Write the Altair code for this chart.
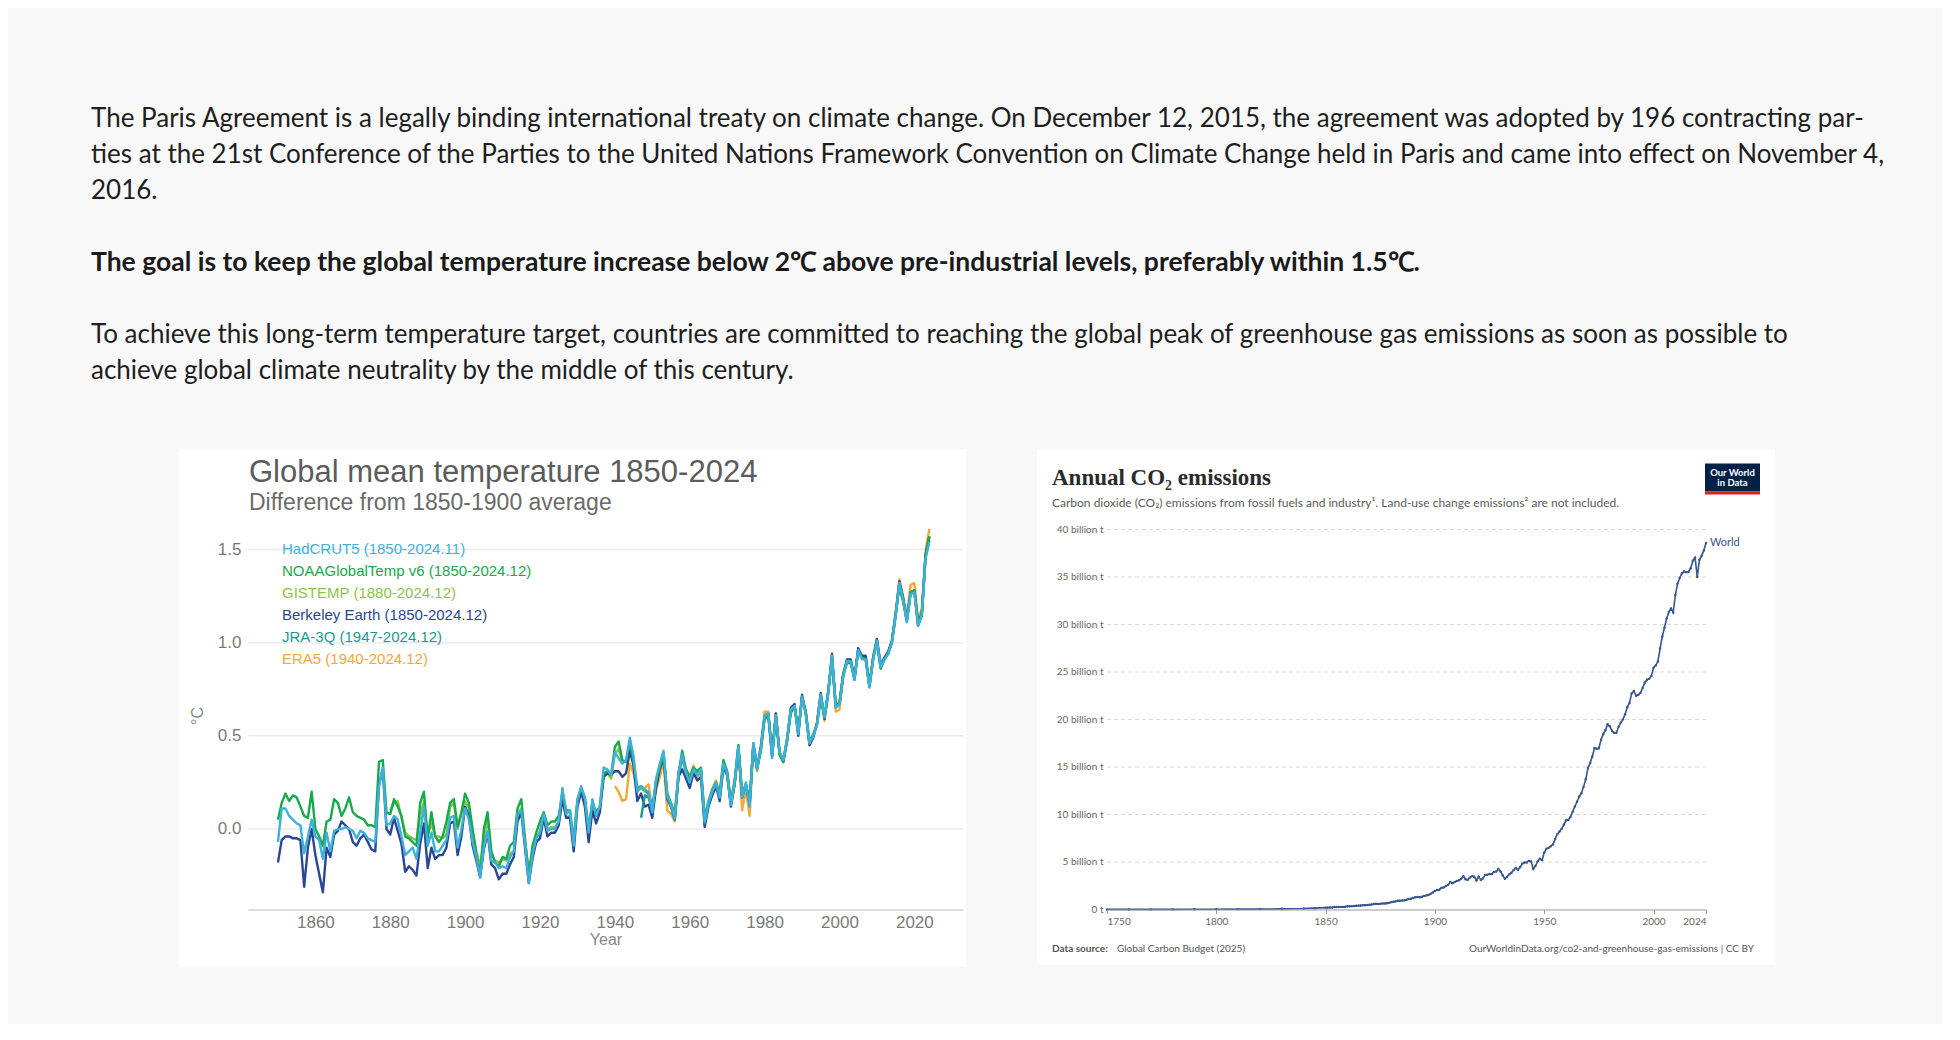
import altair as alt
import pandas as pd

# ---------------- text block ----------------
PARA_LINES = [
    "The Paris Agreement is a legally binding international treaty on climate change. On December 12, 2015, the agreement was adopted by 196 contracting par-",
    "ties at the 21st Conference of the Parties to the United Nations Framework Convention on Climate Change held in Paris and came into effect on November 4,",
    "2016.",
    "The goal is to keep the global temperature increase below 2\u2103 above pre-industrial levels, preferably within 1.5\u2103.",
    "To achieve this long-term temperature target, countries are committed to reaching the global peak of greenhouse gas emissions as soon as possible to",
    "achieve global climate neutrality by the middle of this century.",
]
PARA_SLOTS = [0, 1, 2, 4, 6, 7]
PARA_BOLD = [False, False, False, True, False, False]

# ---------------- temperature chart data ----------------
TEMP_TITLE = "Global mean temperature 1850-2024"
TEMP_SUBTITLE = "Difference from 1850-1900 average"
SERIES_NAMES = [
    "HadCRUT5 (1850-2024.11)",
    "NOAAGlobalTemp v6 (1850-2024.12)",
    "GISTEMP (1880-2024.12)",
    "Berkeley Earth (1850-2024.12)",
    "JRA-3Q (1947-2024.12)",
    "ERA5 (1940-2024.12)",
]
SERIES_COLORS = ["#3db1dc", "#17a94b", "#8dc447", "#2a4794", "#1b9b8d", "#f6a735"]
SERIES_START = [1850, 1850, 1880, 1850, 1947, 1940]

HADCRUT5 = [
    -0.07, 0.11, 0.11, 0.07, 0.05, 0.03, 0.02, -0.13, -0.04, 0.05,
    -0.04, -0.06, -0.16, -0.02, -0.12, -0.01, 0.00, 0.00, 0.01, 0.00,
    -0.01, -0.05, -0.01, -0.02, -0.05, -0.06, -0.07, 0.23, 0.33, 0.02,
    0.03, 0.07, 0.05, -0.04, -0.14, -0.12, -0.10, -0.16, -0.02, 0.12,
    -0.09, -0.02, -0.12, -0.12, -0.09, -0.06, 0.06, 0.07, -0.10, 0.00,
    0.11, 0.05, -0.07, -0.15, -0.26, -0.10, -0.01, -0.17, -0.18, -0.21,
    -0.20, -0.21, -0.15, -0.12, 0.08, 0.10, -0.08, -0.29, -0.14, -0.05,
    -0.02, 0.08, -0.01, 0.00, 0.00, 0.04, 0.22, 0.08, 0.10, -0.09,
    0.15, 0.23, 0.16, -0.02, 0.16, 0.07, 0.12, 0.33, 0.32, 0.29,
    0.41, 0.38, 0.35, 0.37, 0.49, 0.39, 0.20, 0.23, 0.21, 0.20,
    0.09, 0.27, 0.35, 0.42, 0.18, 0.13, 0.06, 0.30, 0.40, 0.30,
    0.25, 0.32, 0.29, 0.32, 0.04, 0.14, 0.20, 0.25, 0.17, 0.35,
    0.30, 0.13, 0.25, 0.44, 0.17, 0.25, 0.12, 0.46, 0.32, 0.43,
    0.61, 0.62, 0.38, 0.61, 0.41, 0.37, 0.48, 0.64, 0.66, 0.51,
    0.71, 0.62, 0.46, 0.50, 0.56, 0.72, 0.60, 0.73, 0.93, 0.65,
    0.67, 0.82, 0.90, 0.90, 0.80, 0.96, 0.91, 0.91, 0.76, 0.91,
    1.01, 0.87, 0.91, 0.94, 1.00, 1.14, 1.32, 1.23, 1.11, 1.26,
    1.27, 1.09, 1.15, 1.45, 1.54,
]
NOAA = [
    0.05, 0.14, 0.19, 0.15, 0.18, 0.17, 0.12, 0.07, 0.06, 0.20,
    0.00, -0.04, -0.09, 0.04, 0.05, 0.16, 0.14, 0.07, 0.11, 0.17,
    0.09, 0.07, 0.06, 0.05, 0.02, 0.02, 0.01, 0.36, 0.37, 0.09,
    0.08, 0.16, 0.12, 0.07, -0.04, -0.05, -0.07, -0.09, 0.14, 0.20,
    -0.05, 0.09, -0.04, -0.07, -0.04, 0.04, 0.14, 0.16, 0.01, 0.09,
    0.19, 0.14, 0.00, -0.13, -0.25, 0.00, 0.09, -0.12, -0.18, -0.20,
    -0.15, -0.16, -0.09, -0.07, 0.11, 0.16, -0.05, -0.25, -0.09, -0.02,
    0.04, 0.09, 0.02, 0.04, 0.04, 0.07, 0.20, 0.10, 0.10, -0.06,
    0.16, 0.22, 0.17, 0.00, 0.14, 0.09, 0.12, 0.30, 0.31, 0.29,
    0.44, 0.47, 0.37, 0.36, 0.47, 0.36, 0.22, 0.23, 0.21, 0.19,
    0.11, 0.26, 0.33, 0.40, 0.19, 0.14, 0.08, 0.30, 0.42, 0.32,
    0.28, 0.33, 0.31, 0.33, 0.06, 0.15, 0.21, 0.25, 0.19, 0.37,
    0.31, 0.15, 0.26, 0.45, 0.19, 0.24, 0.15, 0.46, 0.33, 0.42,
    0.59, 0.61, 0.40, 0.60, 0.40, 0.36, 0.47, 0.62, 0.66, 0.52,
    0.70, 0.63, 0.47, 0.51, 0.56, 0.70, 0.60, 0.74, 0.91, 0.66,
    0.67, 0.83, 0.89, 0.89, 0.81, 0.95, 0.92, 0.91, 0.77, 0.92,
    1.00, 0.86, 0.91, 0.94, 1.00, 1.15, 1.30, 1.22, 1.12, 1.27,
    1.28, 1.10, 1.14, 1.47, 1.57,
]
GISTEMP = [
    0.10, 0.14, 0.15, 0.06, -0.02, -0.04, -0.05, -0.06, 0.07, 0.15,
    -0.03, 0.03, -0.04, -0.04, -0.05, -0.03, 0.12, 0.14, 0.00, 0.08,
    0.15, 0.11, -0.02, -0.12, -0.20, -0.05, 0.05, -0.13, -0.17, -0.18,
    -0.16, -0.17, -0.13, -0.12, 0.08, 0.11, -0.07, -0.22, -0.13, -0.05,
    -0.01, 0.06, 0.00, 0.01, 0.01, 0.04, 0.17, 0.06, 0.07, -0.07,
    0.14, 0.20, 0.15, 0.00, 0.14, 0.07, 0.12, 0.28, 0.30, 0.27,
    0.40, 0.43, 0.36, 0.36, 0.47, 0.34, 0.21, 0.22, 0.20, 0.19,
    0.10, 0.25, 0.33, 0.40, 0.18, 0.13, 0.07, 0.29, 0.40, 0.31,
    0.27, 0.33, 0.30, 0.32, 0.05, 0.14, 0.20, 0.25, 0.18, 0.36,
    0.30, 0.14, 0.25, 0.45, 0.18, 0.24, 0.14, 0.46, 0.33, 0.42,
    0.60, 0.62, 0.40, 0.61, 0.41, 0.37, 0.48, 0.63, 0.66, 0.52,
    0.71, 0.63, 0.46, 0.50, 0.57, 0.71, 0.60, 0.73, 0.92, 0.66,
    0.67, 0.83, 0.90, 0.90, 0.81, 0.96, 0.92, 0.92, 0.77, 0.92,
    1.01, 0.87, 0.91, 0.94, 1.01, 1.15, 1.31, 1.23, 1.12, 1.27,
    1.28, 1.10, 1.15, 1.47, 1.56,
]
BERKELEY = [
    -0.18, -0.06, -0.04, -0.04, -0.05, -0.05, -0.06, -0.31, -0.10, 0.00,
    -0.14, -0.24, -0.34, -0.10, -0.15, -0.03, -0.01, 0.04, 0.02, 0.00,
    -0.07, -0.09, -0.05, -0.03, -0.07, -0.11, -0.12, 0.24, 0.32, 0.00,
    -0.03, 0.06, -0.01, -0.08, -0.23, -0.20, -0.22, -0.25, -0.08, 0.03,
    -0.21, -0.10, -0.16, -0.14, -0.14, -0.10, 0.03, 0.04, -0.14, -0.04,
    0.12, 0.07, -0.09, -0.17, -0.26, -0.11, -0.02, -0.19, -0.21, -0.27,
    -0.24, -0.24, -0.19, -0.15, 0.04, 0.09, -0.10, -0.29, -0.16, -0.07,
    -0.05, 0.06, -0.04, -0.02, -0.02, 0.02, 0.16, 0.06, 0.06, -0.12,
    0.12, 0.20, 0.12, -0.07, 0.10, 0.03, 0.09, 0.28, 0.30, 0.29,
    0.31, 0.31, 0.28, 0.30, 0.42, 0.34, 0.15, 0.19, 0.12, 0.13,
    0.06, 0.22, 0.32, 0.38, 0.16, 0.12, 0.05, 0.28, 0.32, 0.27,
    0.22, 0.30, 0.26, 0.28, 0.01, 0.12, 0.18, 0.23, 0.15, 0.33,
    0.29, 0.12, 0.24, 0.43, 0.17, 0.24, 0.13, 0.45, 0.33, 0.44,
    0.60, 0.61, 0.39, 0.62, 0.40, 0.36, 0.47, 0.65, 0.67, 0.50,
    0.72, 0.62, 0.45, 0.49, 0.57, 0.73, 0.59, 0.74, 0.94, 0.66,
    0.68, 0.83, 0.91, 0.91, 0.81, 0.97, 0.93, 0.93, 0.77, 0.92,
    1.02, 0.88, 0.92, 0.95, 1.01, 1.15, 1.33, 1.24, 1.12, 1.27,
    1.28, 1.10, 1.16, 1.47, 1.57,
]
JRA3Q = [
    0.06, 0.18, 0.17,
    0.09, 0.25, 0.34, 0.41, 0.17, 0.12, 0.05, 0.29, 0.39, 0.30,
    0.26, 0.32, 0.29, 0.31, 0.03, 0.13, 0.20, 0.24, 0.17, 0.35,
    0.30, 0.13, 0.25, 0.44, 0.17, 0.24, 0.13, 0.45, 0.32, 0.43,
    0.61, 0.62, 0.39, 0.61, 0.41, 0.37, 0.48, 0.64, 0.66, 0.52,
    0.71, 0.62, 0.46, 0.50, 0.56, 0.72, 0.60, 0.73, 0.93, 0.66,
    0.67, 0.82, 0.90, 0.90, 0.80, 0.96, 0.92, 0.91, 0.76, 0.91,
    1.01, 0.87, 0.91, 0.94, 1.00, 1.14, 1.32, 1.23, 1.11, 1.27,
    1.28, 1.09, 1.15, 1.46, 1.55,
]
ERA5 = [
    0.23, 0.20, 0.15, 0.16, 0.35, 0.30, 0.20, 0.22, 0.22, 0.24,
    0.10, 0.21, 0.28, 0.36, 0.10, 0.08, 0.04, 0.28, 0.37, 0.32,
    0.27, 0.34, 0.28, 0.30, 0.02, 0.13, 0.21, 0.26, 0.18, 0.36,
    0.29, 0.13, 0.24, 0.43, 0.10, 0.21, 0.07, 0.45, 0.31, 0.45,
    0.63, 0.63, 0.40, 0.62, 0.42, 0.36, 0.49, 0.64, 0.67, 0.51,
    0.71, 0.62, 0.45, 0.50, 0.57, 0.72, 0.58, 0.73, 0.92, 0.63,
    0.64, 0.82, 0.90, 0.91, 0.80, 0.96, 0.92, 0.92, 0.77, 0.92,
    1.02, 0.87, 0.91, 0.95, 1.01, 1.16, 1.34, 1.25, 1.14, 1.31,
    1.32, 1.13, 1.18, 1.49, 1.61,
]
SERIES_VALUES = [HADCRUT5, NOAA, GISTEMP, BERKELEY, JRA3Q, ERA5]
DRAW_ORDER = [5, 2, 3, 4, 1, 0]
TEMP_Y_TICKS = [0.0, 0.5, 1.0, 1.5]
TEMP_X_TICKS = [1860, 1880, 1900, 1920, 1940, 1960, 1980, 2000, 2020]

# ---------------- CO2 chart data ----------------
CO2_TITLE = "Annual CO\u2082 emissions"
CO2_SUBTITLE = ("Carbon dioxide (CO\u2082) emissions from fossil fuels and industry\u00b9. "
                "Land-use change emissions\u00b2 are not included.")
CO2_YEARS = [1750, 1760, 1770, 1780, 1790, 1800, 1810, 1820, 1830, 1840, 1845] + list(range(1850, 2025))
CO2_VALUES = [
    0.009, 0.010, 0.012, 0.015, 0.020, 0.028, 0.037, 0.044, 0.069, 0.098, 0.140,
    0.197, 0.198, 0.207, 0.217, 0.255, 0.259, 0.270, 0.275, 0.276, 0.293,
    0.334, 0.348, 0.345, 0.360, 0.389, 0.410, 0.413, 0.443, 0.447, 0.469,
    0.490, 0.524, 0.574, 0.608, 0.585, 0.608, 0.627, 0.640, 0.648, 0.699,
    0.774, 0.807, 0.855, 0.920, 0.929, 0.950, 0.961, 1.017, 1.109, 1.121,
    1.206, 1.283, 1.306, 1.290, 1.342, 1.422, 1.467, 1.536, 1.640, 1.788,
    1.951, 2.042, 2.088, 2.297, 2.320, 2.463, 2.592, 2.898, 2.761, 2.882,
    3.007, 3.071, 3.225, 3.511, 3.190, 3.119, 3.357, 3.515, 3.445, 3.061,
    3.461, 3.115, 3.274, 3.642, 3.658, 3.728, 3.722, 3.961, 3.993, 4.273,
    3.992, 3.597, 3.229, 3.444, 3.703, 3.876, 4.158, 4.364, 4.182, 4.466,
    4.825, 4.946, 4.953, 5.118, 5.062, 4.258, 4.586, 5.067, 5.350, 5.196,
    6.003, 6.384, 6.488, 6.665, 6.834, 7.430, 7.934, 8.209, 8.495, 8.939,
    9.388, 9.413, 9.744, 10.283, 10.836, 11.339, 11.884, 12.245, 12.909, 13.704,
    14.886, 15.433, 16.104, 17.001, 16.911, 16.969, 17.876, 18.458, 18.877, 19.503,
    19.288, 18.793, 18.589, 18.609, 19.238, 19.679, 20.012, 20.550, 21.301, 21.741,
    22.745, 23.004, 22.494, 22.586, 22.801, 23.308, 23.867, 24.185, 24.277, 24.586,
    25.454, 25.684, 26.095, 27.476, 28.735, 29.653, 30.640, 31.321, 31.685, 31.259,
    33.128, 34.301, 34.917, 35.387, 35.581, 35.502, 35.549, 35.926, 36.718, 37.040,
    35.007, 36.818, 37.228, 37.791, 38.585,
]
CO2_Y_TICKS = [0, 5, 10, 15, 20, 25, 30, 35, 40]
CO2_GRID = [5, 10, 15, 20, 25, 30, 35, 40]
CO2_X_TICKS = [1750, 1800, 1850, 1900, 1950, 2000, 2024]

assert len(HADCRUT5) == 175 and len(NOAA) == 175 and len(BERKELEY) == 175
assert len(GISTEMP) == 145 and len(JRA3Q) == 78 and len(ERA5) == 85
assert len(CO2_YEARS) == len(CO2_VALUES)

BODY_FONT = "Lato"
WMO_FONT = "Liberation Sans"
one = pd.DataFrame({"a": [0]})


def label(text, x, y, **kw):
    """A single piece of annotation text placed in the panel."""
    return alt.Chart(one).mark_text(text=text, baseline="middle", **kw).encode(
        x=alt.value(x), y=alt.value(y))


# ================= text block =================
text_df = pd.DataFrame({"slot": PARA_SLOTS, "text": PARA_LINES, "bold": PARA_BOLD})
y_slot = alt.Y("slot:Q", scale=alt.Scale(domain=[-0.5, 7.5], reverse=True, nice=False, zero=False), axis=None)
txt_normal = alt.Chart(text_df).transform_filter("!datum.bold").mark_text(
    align="left", baseline="middle", font=BODY_FONT, fontSize=26, color="#1e1e1e"
).encode(x=alt.value(0), y=y_slot, text="text:N")
txt_bold = alt.Chart(text_df).transform_filter("datum.bold").mark_text(
    align="left", baseline="middle", font=BODY_FONT, fontSize=26.5, fontWeight="bold", color="#1a1a1a"
).encode(x=alt.value(0), y=y_slot, text="text:N")
text_chart = alt.layer(txt_normal, txt_bold).properties(width=1812, height=288)

# ================= temperature chart =================
rows = []
for name, start, vals in zip(SERIES_NAMES, SERIES_START, SERIES_VALUES):
    for i, v in enumerate(vals):
        rows.append({"series": name, "year": start + i, "value": v})
temp_df = pd.DataFrame(rows)

W1, H1 = 715, 388
xs1 = alt.Scale(domain=[1842, 2033], nice=False, zero=False)
ys1 = alt.Scale(domain=[-0.432, 1.65], nice=False, zero=False)
color_scale = alt.Scale(domain=SERIES_NAMES, range=SERIES_COLORS)
ax1x = alt.Axis(values=TEMP_X_TICKS, format="d", grid=False, ticks=False, domain=True,
                domainColor="#d4d4d4", domainWidth=1.5, labelFont=WMO_FONT, labelFontSize=17,
                labelColor="#7a7a7a", labelPadding=5, title="Year", titleFont=WMO_FONT,
                titleFontSize=16, titleFontWeight="normal", titleColor="#888888", titlePadding=1,
                zindex=1)
ax1y = alt.Axis(values=TEMP_Y_TICKS, format=".1f", grid=False, ticks=False, domain=False,
                labelFont=WMO_FONT, labelFontSize=17, labelColor="#7a7a7a", labelPadding=7,
                title="\u00b0C", titleFont=WMO_FONT, titleFontSize=16, titleFontWeight="normal",
                titleColor="#888888", titlePadding=12, zindex=1)

bg1 = alt.Chart(one).mark_rect(color="white").encode(
    x=alt.value(-69), x2=alt.value(W1 + 3), y=alt.value(-72), y2=alt.value(H1 + 57))
grid1 = alt.Chart(pd.DataFrame({"v": TEMP_Y_TICKS})).mark_rule(color="#ebebeb", strokeWidth=1.5).encode(
    y=alt.Y("v:Q", scale=ys1, axis=ax1y))
line_layers = []
for idx in DRAW_ORDER:
    name = SERIES_NAMES[idx]
    line_layers.append(
        alt.Chart(temp_df).transform_filter(alt.datum.series == name).mark_line(
            strokeWidth=2.4, strokeJoin="round").encode(
            x=alt.X("year:Q", scale=xs1, axis=ax1x),
            y=alt.Y("value:Q", scale=ys1, axis=ax1y),
            color=alt.Color("series:N", scale=color_scale, legend=None),
        )
    )
t1_title = label(TEMP_TITLE, 1, -49, align="left", font=WMO_FONT, fontSize=31, color="#5c5c5c")
t1_sub = label(TEMP_SUBTITLE, 1, -19, align="left", font=WMO_FONT, fontSize=23, color="#6a6a6a")
temp_inner = alt.layer(bg1, grid1, *line_layers, t1_title, t1_sub)

legend_df = pd.DataFrame({"series": SERIES_NAMES, "rank": list(range(len(SERIES_NAMES)))})
legend_txt = alt.Chart(legend_df).mark_text(
    align="left", baseline="middle", font=WMO_FONT, fontSize=15).encode(
    x=alt.value(34),
    y=alt.Y("rank:Q", scale=alt.Scale(domain=[0, 5], range=[27, 137], nice=False, zero=False), axis=None),
    text="series:N",
    color=alt.Color("series:N", scale=color_scale, legend=None),
)

temp_chart = alt.layer(temp_inner, legend_txt).resolve_scale(y="independent").properties(
    width=W1, height=H1)

# ================= CO2 chart =================
co2_df = pd.DataFrame({"year": CO2_YEARS, "value": CO2_VALUES})
W2, H2 = 599, 388
LINE_BLUE = "#37558f"
xs2 = alt.Scale(domain=[1750, 2024], nice=False, zero=False)
ys2 = alt.Scale(domain=[0, 40.84], nice=False)
ax2x = alt.Axis(values=CO2_X_TICKS, format="d", grid=False, ticks=True, tickSize=4, tickColor="#999999",
                domain=True, domainColor="#9a9a9a", labelFlush=True, labelFont=BODY_FONT,
                labelFontSize=10, labelColor="#666666", labelPadding=3, title=None, zindex=1)
ax2y = alt.Axis(values=CO2_Y_TICKS, grid=False, ticks=False, domain=False,
                labelExpr="datum.value == 0 ? '0 t' : datum.value + ' billion t'",
                labelFont=BODY_FONT, labelFontSize=10, labelColor="#666666", labelPadding=4,
                title=None, zindex=1)

bg2 = alt.Chart(one).mark_rect(color="white").encode(
    x=alt.value(-70), x2=alt.value(W2 + 69), y=alt.value(-72), y2=alt.value(H2 + 55))
grid2 = alt.Chart(pd.DataFrame({"v": CO2_GRID})).mark_rule(
    color="#d9d9d9", strokeWidth=1, strokeDash=[4, 3]).encode(y=alt.Y("v:Q", scale=ys2, axis=ax2y))
co2_line = alt.Chart(co2_df).mark_line(color=LINE_BLUE, strokeWidth=1.6).encode(
    x=alt.X("year:Q", scale=xs2, axis=ax2x), y=alt.Y("value:Q", scale=ys2, axis=ax2y))
co2_pts = alt.Chart(co2_df).mark_point(filled=True, size=6, color=LINE_BLUE, opacity=1).encode(
    x=alt.X("year:Q", scale=xs2, axis=ax2x), y=alt.Y("value:Q", scale=ys2, axis=ax2y))
world_lbl = alt.Chart(co2_df).transform_filter(alt.datum.year == 2024).mark_text(
    align="left", baseline="middle", dx=4, font=BODY_FONT, fontSize=11, color=LINE_BLUE, text="World").encode(
    x=alt.X("year:Q", scale=xs2, axis=ax2x), y=alt.Y("value:Q", scale=ys2, axis=ax2y))

logo_box = alt.Chart(one).mark_rect(color="#002147").encode(
    x=alt.value(598), x2=alt.value(653), y=alt.value(-58), y2=alt.value(-30))
logo_bar = alt.Chart(one).mark_rect(color="#ce261e").encode(
    x=alt.value(598), x2=alt.value(653), y=alt.value(-30), y2=alt.value(-27))
logo_t1 = label("Our World", 625.5, -49, align="center", font=BODY_FONT, fontSize=9.5,
                fontWeight="bold", color="white")
logo_t2 = label("in Data", 625.5, -39, align="center", font=BODY_FONT, fontSize=9.5,
                fontWeight="bold", color="white")
t2_title = label(CO2_TITLE, -55, -44, align="left", font="Liberation Serif", fontSize=23,
                 fontWeight="bold", color="#2b2b2b")
t2_sub = label(CO2_SUBTITLE, -55, -19, align="left", font=BODY_FONT, fontSize=12, color="#5b5b5b")
src_b = label("Data source:", -55, 427, align="left", font=BODY_FONT, fontSize=10,
              fontWeight="bold", color="#555555")
src_n = label("Global Carbon Budget (2025)", 10, 427, align="left", font=BODY_FONT, fontSize=10,
              color="#555555")
src_r = label("OurWorldinData.org/co2-and-greenhouse-gas-emissions | CC BY", 647, 427, align="right",
              font=BODY_FONT, fontSize=10, color="#555555")

co2_chart = alt.layer(bg2, grid2, co2_line, co2_pts, world_lbl, logo_box, logo_bar, logo_t1, logo_t2,
                      t2_title, t2_sub, src_b, src_n, src_r).properties(width=W2, height=H2)

# ================= layout =================
spacer = alt.Chart(one).mark_point(opacity=0).encode(x=alt.value(8), y=alt.value(10)).properties(
    width=17, height=20)
row = alt.hconcat(spacer, temp_chart, co2_chart, spacing=69)

chart = alt.vconcat(text_chart, row, spacing=59).properties(
    background="#f8f8f8",
    padding={"left": 82, "top": 91.5, "right": 38, "bottom": 56},
).configure_view(stroke="transparent")

chart.save("out.html", embed_options={"renderer": "svg", "actions": False})
